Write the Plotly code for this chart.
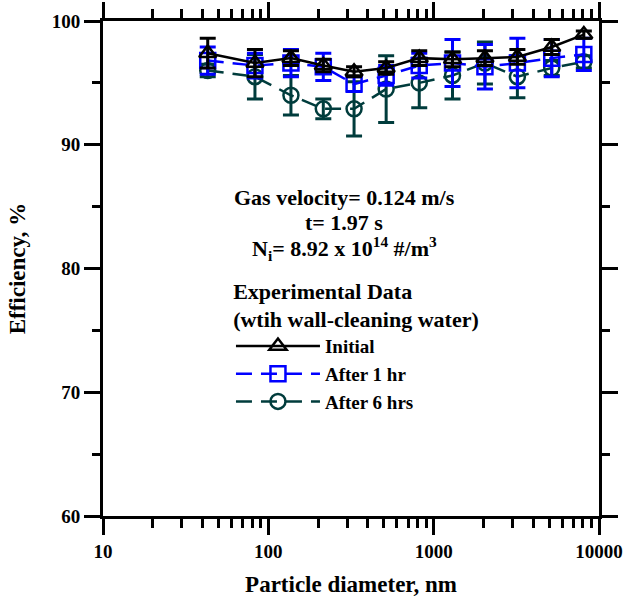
import plotly.graph_objects as go

# Particle diameter (nm)
diam = [43, 83, 137, 215, 330, 516, 818, 1300, 2042, 3209, 5177, 8095]
# Efficiency (%)
initial = [97.4, 96.6, 97.0, 96.4, 95.9, 96.2, 97.0, 96.9, 97.0, 97.1, 97.9, 98.9]
initial_err = [1.2, 1.1, 0.6, 0.5, 0.4, 0.5, 0.6, 0.6, 0.6, 0.6, 0.6, 0.3]
after1 = [96.8, 96.4, 96.6, 96.3, 94.9, 95.6, 96.4, 96.6, 96.3, 96.6, 97.0, 97.3]
after1_err = [1.1, 1.0, 1.1, 1.1, 0.6, 0.8, 1.0, 1.9, 1.8, 2.0, 1.5, 1.3]
after6 = [96.0, 95.5, 94.0, 92.9, 92.9, 94.5, 95.0, 95.6, 96.6, 95.5, 96.2, 96.7]
after6_err = [0.5, 1.8, 1.6, 0.8, 2.2, 2.7, 2.0, 1.9, 1.7, 1.7, 0.6, 0.5]

# Axis tick values
x_major = [10, 100, 1000, 10000]
x_labels = ["10", "100", "1000", "10000"]
x_minor = [m * d for d in (10, 100, 1000) for m in range(2, 10)]

FONT = "Liberation Serif"
GREEN = "#003c3c"
BLUE = "#0000ff"

fig = go.Figure()

def add(y, err, name, color, symbol, dash):
    fig.add_trace(go.Scatter(
        x=diam, y=y, name=name, mode="lines+markers",
        line=dict(color=color, width=2.5, dash=dash),
        marker=dict(symbol=symbol, size=15, color=color,
                    line=dict(color=color, width=2.5)),
        error_y=dict(type="data", array=err, visible=True, color=color,
                     thickness=3, width=8),
    ))

add(after6, after6_err, "After 6 hrs", GREEN, "circle-open", "16px,9px")
add(after1, after1_err, "After 1 hr", BLUE, "square-open", "16px,9px")
add(initial, initial_err, "Initial", "black", "triangle-up-open", "solid")

axis_common = dict(
    showline=True, linewidth=3, linecolor="black", mirror="ticks",
    ticks="outside", tickwidth=3, tickcolor="black", showgrid=False,
    zeroline=False, automargin=False,
    tickfont=dict(family=FONT, size=19, color="black", weight="bold"),
)

fig.update_xaxes(
    type="log", range=[1, 4], tickvals=x_major, ticktext=x_labels,
    ticklen=16,
    minor=dict(ticks="outside", ticklen=9, tickwidth=2.5, tickcolor="black",
               tickvals=x_minor, showgrid=False),
    title=dict(text="Particle diameter, nm",
               font=dict(family=FONT, size=23, color="black", weight="bold"),
               standoff=16),
    **axis_common,
)
fig.update_yaxes(
    range=[60, 100], dtick=10, ticklen=16,
    minor=dict(ticks="outside", ticklen=8, tickwidth=2.5, dtick=5,
               tickcolor="black", showgrid=False),
    title=dict(text="Efficiency, %",
               font=dict(family=FONT, size=23, color="black", weight="bold"),
               standoff=20),
    **axis_common,
)

txtfont = dict(family=FONT, size=22, color="black", weight="bold")
for yy, t in [(0.644, "Gas velocity= 0.124 m/s"),
              (0.592, "t= 1.97 s"),
              (0.541, "N<sub>i</sub>= 8.92 x 10<sup>14</sup> #/m<sup>3</sup>")]:
    fig.add_annotation(x=0.486, y=yy, xref="paper", yref="paper", text=t,
                       showarrow=False, font=txtfont, xanchor="center",
                       yanchor="middle")

fig.update_layout(
    width=625, height=598,
    margin=dict(l=103, r=26, t=21, b=82),
    plot_bgcolor="white", paper_bgcolor="white",
    showlegend=True,
    legend=dict(
        x=0.258, y=0.497, xanchor="left", yanchor="top",
        bgcolor="rgba(0,0,0,0)", traceorder="reversed",
        itemwidth=84, tracegroupgap=0,
        font=dict(family=FONT, size=19, color="black", weight="bold"),
        title=dict(text="Experimental Data<br>(wtih wall-cleaning water)",
                   side="top center",
                   font=dict(family=FONT, size=22, color="black", weight="bold")),
    ),
)

fig.write_html("out.html")
